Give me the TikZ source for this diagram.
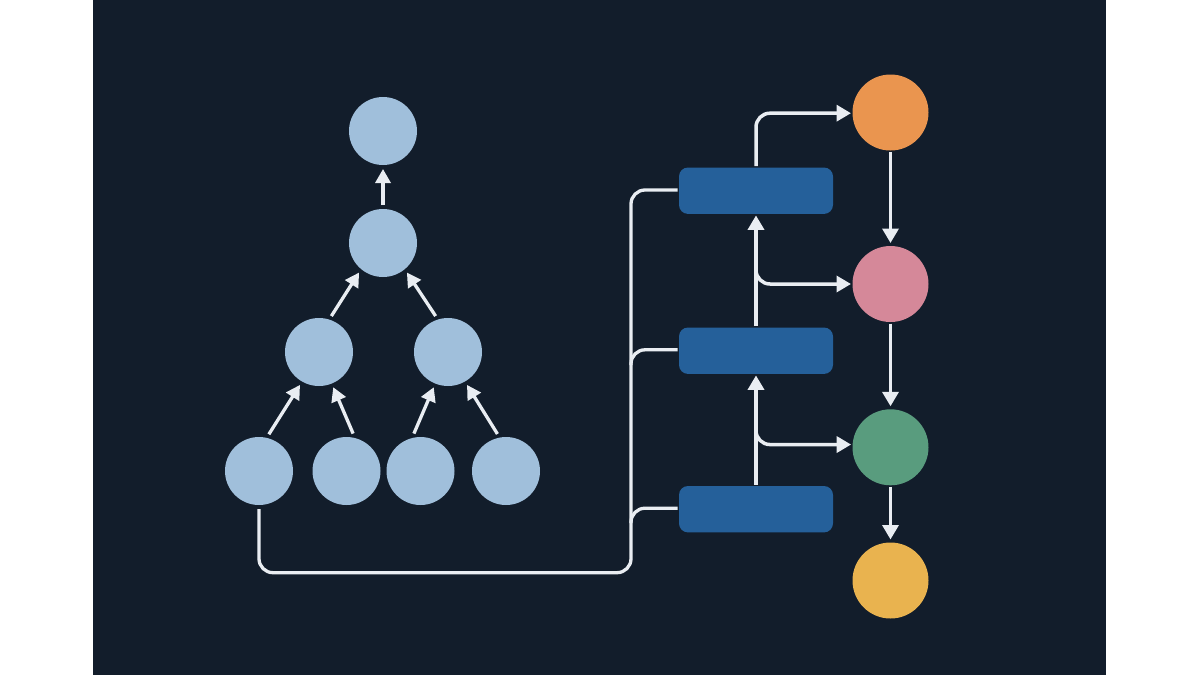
\documentclass[tikz,border=0pt]{standalone}
\usetikzlibrary{arrows.meta}
\definecolor{bgdark}{HTML}{121D2B}
\definecolor{treeblue}{HTML}{A0BFDB}
\definecolor{barblue}{HTML}{25609A}
\definecolor{cOrange}{HTML}{EA954F}
\definecolor{cPink}{HTML}{D58899}
\definecolor{cGreen}{HTML}{599C7E}
\definecolor{cYellow}{HTML}{E9B34F}
\definecolor{wire}{HTML}{E9EDF2}
\tikzset{
  treenode/.style={circle,fill=treeblue,minimum size=68pt,inner sep=0pt,outer sep=4pt},
  flownode/.style={circle,minimum size=76pt,inner sep=0pt,outer sep=1.5pt},
  barnode/.style={rectangle,rounded corners=9pt,fill=barblue,minimum width=154pt,minimum height=46.4pt,inner sep=0pt,outer sep=1.5pt},
  treearrow/.style={draw=wire,line width=3.3pt,-{Triangle[length=14pt,width=15pt]}},
  flowarrow/.style={draw=wire,line width=3.5pt,-{Triangle[length=14.5pt,width=16pt]},rounded corners=14pt},
  buswire/.style={draw=wire,line width=3.3pt,rounded corners=14pt}
}
\begin{document}
\begin{tikzpicture}[x=1pt,y=-1pt]
\useasboundingbox (0,0) rectangle (1200,675);
\fill[white] (0,0) rectangle (1200,675);
\fill[bgdark] (93,0) rectangle (1106,675);

\node[treenode] (root) at (383,131) {};
\node[treenode] (mid) at (383,243) {};
\node[treenode] (l) at (319,352) {};
\node[treenode] (r) at (448,352) {};
\node[treenode] (la) at (259,471) {};
\node[treenode] (lb) at (346.5,471) {};
\node[treenode] (ra) at (420.5,471) {};
\node[treenode] (rb) at (506,471) {};

\node[flownode,fill=cOrange] (orange) at (890.5,112.5) {};
\node[flownode,fill=cPink] (pink) at (890.5,284) {};
\node[flownode,fill=cGreen] (green) at (890.5,447.3) {};
\node[flownode,fill=cYellow] (yellow) at (890.5,580.5) {};

\node[barnode] (bartop) at (756,190.7) {};
\node[barnode] (barmid) at (756,350.7) {};
\node[barnode] (barlow) at (756,509.2) {};

\draw[treearrow] (mid.90) -- (root.270);
\draw[treearrow] (l.71.6) -- (mid.231.6);
\draw[treearrow] (r.109) -- (mid.309.6);
\draw[treearrow] (la.75) -- (l.240);
\draw[treearrow] (lb.80) -- (l.292);
\draw[treearrow] (ra.100.5) -- (r.248.6);
\draw[treearrow] (rb.103.5) -- (r.300);

\draw[flowarrow,shorten >=1.5pt] (orange.south) -- (pink.north);
\draw[flowarrow,shorten >=1.5pt] (pink.south) -- (green.north);
\draw[flowarrow,shorten >=1.5pt] (green.south) -- (yellow.north);

\coordinate (forkp) at (756,268);
\coordinate (forkg) at (756,429);
\draw[flowarrow] (bartop.north) |- (orange.181.5);
\draw[flowarrow] (forkp) |- (pink.west);
\draw[flowarrow] (forkg) |- (green.176);
\draw[flowarrow] (barmid.north) -- (bartop.south);
\draw[flowarrow] (barlow.north) -- (barmid.south);

\coordinate (busb) at (631,572.7);
\coordinate (bust) at (631,190);
\coordinate (busm) at (631,365);
\coordinate (busl) at (631,523);
\draw[buswire] (la.south) |- (busb) -- (bust) -- ([yshift=0.7pt]bartop.west);
\draw[buswire] (busm) |- ([yshift=0.9pt]barmid.west);
\draw[buswire] (busl) |- ([yshift=1pt]barlow.west);
\end{tikzpicture}
\end{document}
